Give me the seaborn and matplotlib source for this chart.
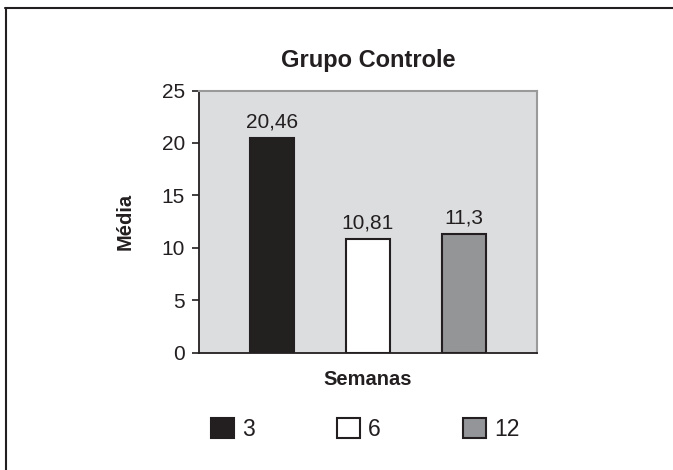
import matplotlib
matplotlib.use("Agg")
import matplotlib.pyplot as plt
from matplotlib.patches import Patch
from matplotlib.lines import Line2D
import pandas as pd
import seaborn as sns

# data
semanas = ["3", "6", "12"]
medias = [20.46, 10.81, 11.3]
rotulos = ["20,46", "10,81", "11,3"]
cores = ["#231f20", "#ffffff", "#939598"]

sns.set_style("white")
plt.rcParams["font.family"] = ["Liberation Sans", "DejaVu Sans"]

df = pd.DataFrame({"Semanas": semanas, "Media": medias})

fig = plt.figure(figsize=(6.73, 4.70), dpi=100)
ax = fig.add_axes([0.2957, 0.2496, 0.502, 0.5577])
ax.set_facecolor("#dcdddf")

sns.barplot(data=df, x="Semanas", y="Media", hue="Semanas", palette=cores,
            dodge=False, legend=False, width=0.46, edgecolor="#231f20",
            linewidth=1.5, ax=ax, order=semanas, hue_order=semanas)

# labels on bars
barras = sorted(ax.patches, key=lambda p: p.get_x())
for p, lab in zip(barras, rotulos):
    ax.annotate(lab, (p.get_x() + p.get_width() / 2, p.get_height()),
                xytext=(0, 5), textcoords="offset points",
                ha="center", va="bottom", fontsize=15, color="#231f20")

ax.set_xlim(-0.76, 2.76)
ax.set_ylim(0, 25)
ax.set_yticks([0, 5, 10, 15, 20, 25])
ax.set_xticks([])
ax.tick_params(axis="y", direction="out", length=5, width=1.2, color="#231f20",
               labelsize=15, labelcolor="#231f20", pad=5, left=True)

for s in ["left", "bottom"]:
    ax.spines[s].set_color("#231f20")
    ax.spines[s].set_linewidth(1.3)
for s in ["top", "right"]:
    ax.spines[s].set_color("#9a9a9a")
    ax.spines[s].set_linewidth(1.5)

ax.set_title("Grupo Controle", fontsize=17, fontweight="bold", pad=17, color="#231f20")
ax.set_ylabel("Média", fontsize=14.5, fontweight="bold", color="#231f20")
ax.yaxis.set_label_coords(-0.19, 0.5)
ax.set_xlabel("Semanas", fontsize=14.5, fontweight="bold", color="#231f20")
ax.xaxis.set_label_coords(0.5, -0.065)

handles = [Patch(facecolor=c, edgecolor="#231f20", linewidth=1.5) for c in cores]
fig.legend(handles, semanas, loc="center", bbox_to_anchor=(0.543, 0.087), ncol=3,
           frameon=False, fontsize=16.5, handlelength=1.0, handleheight=1.0,
           handletextpad=0.35, columnspacing=3.6, labelcolor="#231f20")

fig.add_artist(Line2D([0.008, 1.0], [0.983, 0.983], color="#231f20", lw=1.5))
fig.add_artist(Line2D([0.009, 0.009], [0.0, 0.983], color="#231f20", lw=1.5))

fig.savefig("out.png", dpi=100, facecolor="white")
